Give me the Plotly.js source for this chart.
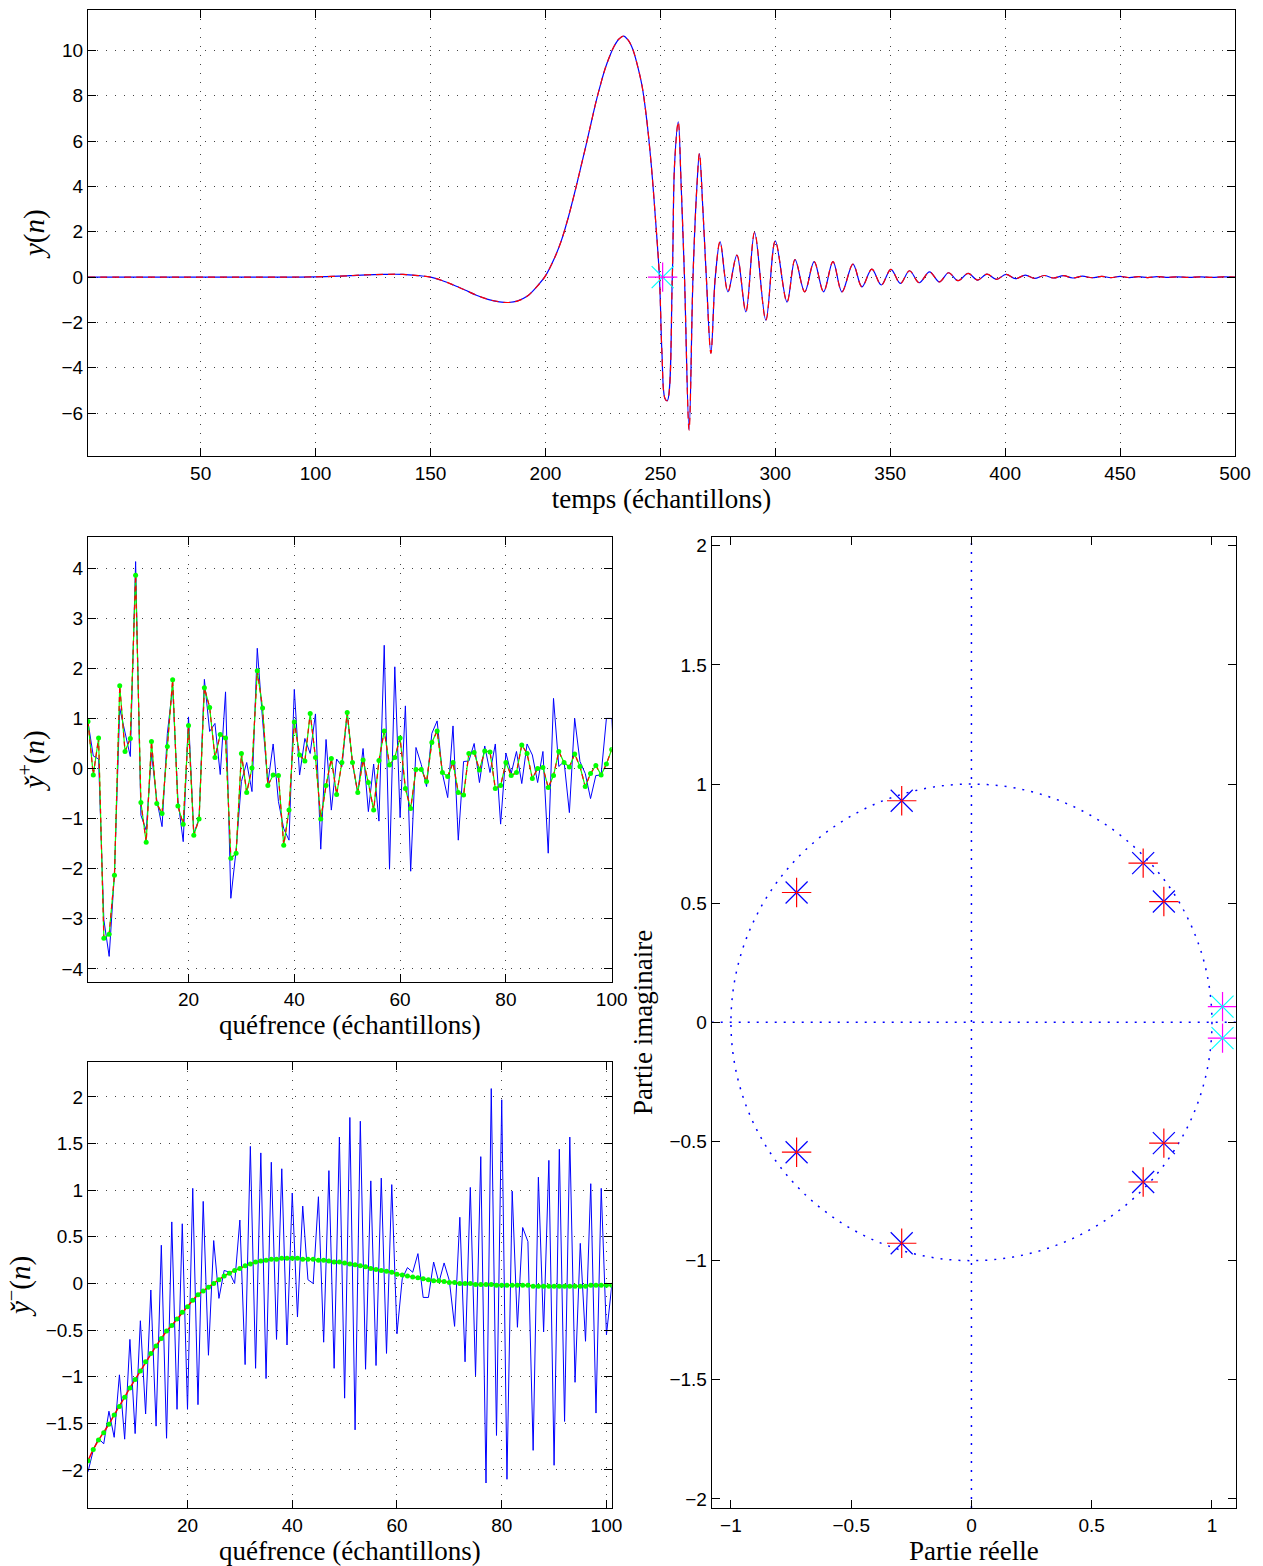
<!DOCTYPE html>
<html>
<head>
<meta charset="utf-8">
<script src="https://cdn.plot.ly/plotly-3.0.1.min.js"></script>
<style>html,body{margin:0;padding:0;background:#fff;}#chart{width:1263px;height:1566px;}</style>
</head>
<body>
<div id="chart"></div>
<script>
// ---------- Top panel: y(n) versus time (samples) ----------
var topN = [1,25,50,75,100,110,120,130,138,145,150,155,160,165,170,175,180,184,188,192,196,200,204,207,210,213,216,218,220,222,224,226,228,230,232,234,236,238,240,242,244,246,248,249.6,250.7,252,253,255.2,256.2,257.8,259,260.5,262.5,264.2,265.9,267,268.5,270,272,273.9,276,279.4,283.3,287.2,291,295.9,300,305.1,308.6,312.8,316.9,321,325.1,329,333.8,337.7,342,346.1,350.3,354.4,358.4,362.6,367.1,371.4,375.4,379.5,383.9,388,392.1,396.2,400.4,404.5,408.8,412.8,417,421,425.4,429.4,433.6,437.8,442,446,450,454,458,462,466,470,475,480,485,490,495,500];
var topY = [0,0,0,0,0.01,0.04,0.09,0.12,0.12,0.06,0,-0.15,-0.35,-0.57,-0.8,-0.98,-1.09,-1.12,-1.05,-0.85,-0.45,0.05,0.85,1.63,2.65,3.83,5.1,5.96,6.85,7.73,8.5,9.2,9.75,10.2,10.5,10.63,10.45,10.05,9.35,8.45,7.0,5.0,2.4,0,-3.36,-5.35,-5.45,0,5.0,6.85,4.2,0,-6.74,0,4.0,5.45,3.0,0,-3.36,0,1.56,-0.65,0.97,-1.53,1.97,-1.9,1.6,-1.1,0.77,-0.65,0.68,-0.65,0.68,-0.65,0.57,-0.43,0.35,-0.35,0.34,-0.28,0.28,-0.25,0.23,-0.21,0.19,-0.16,0.16,-0.13,0.13,-0.1,0.12,-0.07,0.09,-0.06,0.07,-0.04,0.06,-0.04,0.04,-0.03,0.03,-0.02,0.03,-0.02,0.02,-0.02,0.02,-0.01,0.01,-0.01,0.01,-0.01,0.01,0];
var topMarkN = [251];
var topMarkY = [0];
var topXTicks = [50,100,150,200,250,300,350,400,450,500];
var topYTicks = [-6,-4,-2,0,2,4,6,8,10];

// ---------- Middle panel: causal cepstrum y+(n) ----------
var plusN = [];
for (var i = 1; i <= 101; i++) plusN.push(i);
var plusBlue = [0.93,0.25,0.19,-3.02,-3.75,-2.1,1.2,0.75,0.24,4.13,
  -0.93,-1.23,0.3,-0.63,-1.16,0.7,1.63,-0.63,-1.46,1.03,
  -1.3,-1.0,1.78,0.74,0.9,-0.12,1.53,-2.59,-1.63,-0.26,
  0.12,-0.46,2.4,0.97,-0.3,0.49,-0.66,-1.2,-1.43,1.58,
  -0.13,0.6,0.3,1.09,-1.61,0.58,-0.83,0.19,0.04,1.1,
  0.1,-0.5,0.4,-0.86,0.09,-1.05,2.46,-2.01,2.03,-0.98,
  1.25,-2.05,0.42,0.08,-0.36,0.7,0.95,-0.1,-0.58,0.85,
  -1.43,0.14,0.15,0.5,-0.28,0.45,-0.08,0.49,-1.11,0.31,
  -0.1,0.34,-0.3,0.49,0.27,-0.28,0.34,-1.69,1.4,0.04,
  0.14,-0.88,1.0,0.14,-0.1,-0.6,-0.14,-0.13,1.0,1.0,-0.7];
var plusRec = [0.94,-0.13,0.61,-3.39,-3.31,-2.13,1.65,0.34,0.6,3.86,
  -0.68,-1.47,0.54,-0.7,-0.9,0.44,1.77,-0.75,-1.11,0.86,
  -1.33,-1.01,1.61,1.22,0.22,0.68,0.61,-1.79,-1.69,0.3,
  -0.48,0.01,1.95,1.21,-0.34,-0.13,-0.14,-1.53,-0.83,0.93,
  0.27,0.15,1.1,0.22,-1.01,-0.34,0.2,-0.52,0.12,1.12,
  0.12,-0.48,0.17,-0.28,-0.83,0.16,0.75,0.07,0.22,0.61,
  -0.4,-0.8,-0.02,-0.02,-0.26,0.52,0.75,-0.08,-0.16,0.12,
  -0.48,-0.53,0.3,0.32,-0.03,0.35,0.33,-0.4,-0.34,0.12,
  -0.14,-0.08,0.47,0.3,-0.2,0,0.02,-0.38,-0.14,0.34,
  0.12,0.03,0.29,0.04,-0.36,-0.1,0.06,-0.13,0.09,0.38];
var plusXTicks = [20,40,60,80,100];
var plusYTicks = [-4,-3,-2,-1,0,1,2,3,4];

// ---------- Bottom panel: anticausal cepstrum y-(n) ----------
var minusN = [];
for (var j = 1; j <= 101; j++) minusN.push(j);
var minusBlue = [-2.02,-1.79,-1.66,-1.72,-1.37,-1.65,-0.98,-1.67,-0.6,-1.61,
  -0.4,-1.4,-0.07,-1.53,0.41,-1.66,0.66,-1.35,0.64,-1.35,
  1.02,-1.3,0.88,-0.77,0.46,-0.16,0.14,0.12,0.0,0.68,
  -0.87,1.47,-0.91,1.4,-1.02,1.3,-0.6,1.23,-0.66,0.97,
  -0.36,0.83,0.04,0.0,0.93,-0.63,1.21,-0.91,1.57,-1.23,
  1.78,-1.57,1.74,-0.92,1.1,-0.88,1.13,-0.75,1.06,-0.54,
  0.05,0.17,0.12,0.32,-0.15,-0.15,0.23,0.01,0.22,0.03,
  -0.46,0.71,-0.84,1.03,-0.99,1.36,-2.14,2.09,-1.63,1.97,
  -2.1,0.99,-0.47,0.6,0.45,-1.79,1.14,-0.52,1.32,-1.95,
  1.44,-1.48,1.57,-1.06,0.43,-0.62,1.07,-1.39,1.02,-0.55,-0.03];
var minusRec = [-1.9,-1.78,-1.68,-1.6,-1.51,-1.41,-1.32,-1.22,-1.12,-1.03,
  -0.94,-0.84,-0.75,-0.67,-0.59,-0.51,-0.45,-0.38,-0.31,-0.25,
  -0.18,-0.12,-0.08,-0.04,0,0.04,0.08,0.11,0.14,0.16,
  0.19,0.21,0.23,0.24,0.25,0.26,0.26,0.27,0.27,0.27,
  0.27,0.26,0.26,0.26,0.25,0.25,0.24,0.23,0.23,0.22,
  0.21,0.2,0.19,0.18,0.16,0.15,0.14,0.13,0.12,0.1,
  0.09,0.08,0.07,0.06,0.05,0.04,0.03,0.03,0.02,0.01,
  0.01,0,0,0,-0.01,-0.01,-0.01,-0.01,-0.02,-0.02,
  -0.02,-0.02,-0.02,-0.02,-0.02,-0.03,-0.03,-0.03,-0.03,-0.03,
  -0.03,-0.03,-0.03,-0.03,-0.03,-0.03,-0.02,-0.02,-0.02,-0.02,-0.02];
var minusXTicks = [20,40,60,80,100];
var minusYTicks = [-2,-1.5,-1,-0.5,0,0.5,1,1.5,2];

// ---------- Right panel: zeros in the z-plane ----------
var zeroRe = [-0.29,-0.29,-0.727,-0.727,0.714,0.714,0.80,0.80];
var zeroIm = [0.93,-0.927,0.545,-0.545,0.668,-0.67,0.507,-0.507];
var outerRe = [1.044,1.044];
var outerIm = [0.066,-0.066];
var zXTicks = [-1,-0.5,0,0.5,1];
var zYTicks = [-2,-1.5,-1,-0.5,0,0.5,1,1.5,2];

// ---------- Layout helpers ----------
var W = 1263, H = 1566;
function dx(a, b) { return [a / W, b / W]; }
function dy(top, bot) { return [1 - bot / H, 1 - top / H]; }
var TICKFONT = {family: 'Liberation Sans, Arial, sans-serif', size: 19, color: '#000'};
var TITLEFONT = {family: 'Liberation Serif, Times New Roman, serif', size: 27, color: '#000'};
var YTITLEFONT = {family: 'Liberation Serif, Times New Roman, serif', size: 29, color: '#000'};
function fmt(v) { return (v < 0 ? '\u2212' : '') + String(Math.abs(v)); }
function axis(opts) {
  var base = {
    showline: true, linecolor: '#000', linewidth: 1, mirror: 'allticks',
    ticks: 'inside', ticklen: 8, tickcolor: '#000', tickwidth: 1,
    tickfont: TICKFONT, showgrid: true, gridcolor: '#444', gridwidth: 1,
    griddash: '1px,8px', zeroline: false, automargin: false, fixedrange: true,
    tickmode: 'array'
  };
  for (var k in opts) base[k] = opts[k];
  if (base.tickvals) base.ticktext = base.tickvals.map(fmt);
  return base;
}

var BLUE = '#0000ff', RED = '#ff0000', GREEN = '#00ff00';
var traces = [
  // top
  {x: topN, y: topY, xaxis: 'x', yaxis: 'y', mode: 'lines', line: {color: BLUE, width: 1.2, shape: 'spline', smoothing: 1}, hoverinfo: 'skip'},
  {x: topN, y: topY, xaxis: 'x', yaxis: 'y', mode: 'lines', line: {color: RED, width: 1.2, dash: '7px,5px', shape: 'spline', smoothing: 1}, hoverinfo: 'skip'},
  {x: topMarkN, y: topMarkY, xaxis: 'x', yaxis: 'y', mode: 'markers', marker: {symbol: 'x-thin-open', size: 22, color: '#00ffff', line: {width: 1.2, color: '#00ffff'}}, hoverinfo: 'skip'},
  {x: topMarkN, y: topMarkY, xaxis: 'x', yaxis: 'y', mode: 'markers', marker: {symbol: 'cross-thin-open', size: 21, color: '#ff00ff', line: {width: 1.2, color: '#ff00ff'}}, hoverinfo: 'skip'},
  // middle
  {x: plusN, y: plusBlue, xaxis: 'x2', yaxis: 'y2', mode: 'lines', line: {color: BLUE, width: 1}, hoverinfo: 'skip'},
  {x: plusN.slice(0, 100), y: plusRec, xaxis: 'x2', yaxis: 'y2', mode: 'lines', line: {color: GREEN, width: 1.2}, hoverinfo: 'skip'},
  {x: plusN.slice(0, 100), y: plusRec, xaxis: 'x2', yaxis: 'y2', mode: 'lines', line: {color: RED, width: 1.2, dash: '5px,4px'}, hoverinfo: 'skip'},
  {x: plusN.slice(0, 100), y: plusRec, xaxis: 'x2', yaxis: 'y2', mode: 'markers', marker: {color: GREEN, size: 5}, hoverinfo: 'skip'},
  // bottom
  {x: minusN, y: minusBlue, xaxis: 'x3', yaxis: 'y3', mode: 'lines', line: {color: BLUE, width: 1}, hoverinfo: 'skip'},
  {x: minusN, y: minusRec, xaxis: 'x3', yaxis: 'y3', mode: 'lines', line: {color: RED, width: 1.5}, hoverinfo: 'skip'},
  {x: minusN, y: minusRec, xaxis: 'x3', yaxis: 'y3', mode: 'markers', marker: {color: GREEN, size: 5}, hoverinfo: 'skip'},
  // right
  {x: zeroRe, y: zeroIm, xaxis: 'x4', yaxis: 'y4', mode: 'markers', marker: {symbol: 'x-thin-open', size: 22, color: BLUE, line: {width: 1.2, color: BLUE}}, hoverinfo: 'skip'},
  {x: zeroRe, y: zeroIm, xaxis: 'x4', yaxis: 'y4', mode: 'markers', marker: {symbol: 'cross-thin-open', size: 21, color: RED, line: {width: 1.2, color: RED}}, hoverinfo: 'skip'},
  {x: outerRe, y: outerIm, xaxis: 'x4', yaxis: 'y4', mode: 'markers', marker: {symbol: 'cross-thin-open', size: 21, color: '#ff00ff', line: {width: 1.2, color: '#ff00ff'}}, hoverinfo: 'skip'},
  {x: outerRe, y: outerIm, xaxis: 'x4', yaxis: 'y4', mode: 'markers', marker: {symbol: 'x-thin-open', size: 22, color: '#00ffff', line: {width: 1.2, color: '#00ffff'}}, hoverinfo: 'skip'}
];

var zX = [-1.080, 1.100], zY = [-2.038, 2.038];
var layout = {
  width: W, height: H, showlegend: false,
  margin: {l: 0, r: 0, t: 0, b: 0},
  paper_bgcolor: '#fff', plot_bgcolor: '#fff',
  xaxis: axis({domain: dx(88, 1235), range: [1, 500], tickvals: topXTicks, anchor: 'y',
    title: {text: 'temps (échantillons)', font: TITLEFONT, standoff: 2}}),
  yaxis: axis({domain: dy(9.5, 456), range: [-7.89, 11.8], tickvals: topYTicks, anchor: 'x',
    title: {text: '<i>y</i>(<i>n</i>)', font: YTITLEFONT, standoff: 8}}),
  xaxis2: axis({domain: dx(88, 611.7), range: [1, 100], tickvals: plusXTicks, anchor: 'y2',
    title: {text: 'quéfrence (échantillons)', font: TITLEFONT, standoff: 2}}),
  yaxis2: axis({domain: dy(536.7, 982), range: [-4.261, 4.627], tickvals: plusYTicks, anchor: 'x2',
    title: {text: '<i>y̌</i><sup>+</sup>(<i>n</i>)', font: YTITLEFONT, standoff: 8}}),
  xaxis3: axis({domain: dx(88, 611.7), range: [1, 101], tickvals: minusXTicks, anchor: 'y3',
    title: {text: 'quéfrence (échantillons)', font: TITLEFONT, standoff: 2}}),
  yaxis3: axis({domain: dy(1062, 1508), range: [-2.408, 2.375], tickvals: minusYTicks, anchor: 'x3',
    title: {text: '<i>y̌</i><sup>\u2212</sup>(<i>n</i>)', font: YTITLEFONT, standoff: 8}}),
  xaxis4: axis({domain: dx(711.7, 1236), range: zX, tickvals: zXTicks, anchor: 'y4', showgrid: false,
    title: {text: 'Partie réelle', font: TITLEFONT, standoff: 2}}),
  yaxis4: axis({domain: dy(536.7, 1508), range: zY, tickvals: zYTicks, anchor: 'x4', showgrid: false,
    title: {text: 'Partie imaginaire', font: TITLEFONT, standoff: 8}}),
  shapes: [
    {type: 'circle', xref: 'x4', yref: 'y4', x0: -1, x1: 1, y0: -1, y1: 1,
      line: {color: BLUE, width: 1.5, dash: '2px,7px'}, layer: 'below'},
    {type: 'line', xref: 'x4', yref: 'y4', x0: zX[0], x1: zX[1], y0: 0, y1: 0,
      line: {color: BLUE, width: 1.5, dash: '2px,7px'}, layer: 'below'},
    {type: 'line', xref: 'x4', yref: 'y4', x0: 0, x1: 0, y0: zY[0], y1: zY[1],
      line: {color: BLUE, width: 1.5, dash: '2px,7px'}, layer: 'below'}
  ]
};

Plotly.newPlot('chart', traces, layout, {staticPlot: true, displayModeBar: false});
</script>
</body>
</html>
